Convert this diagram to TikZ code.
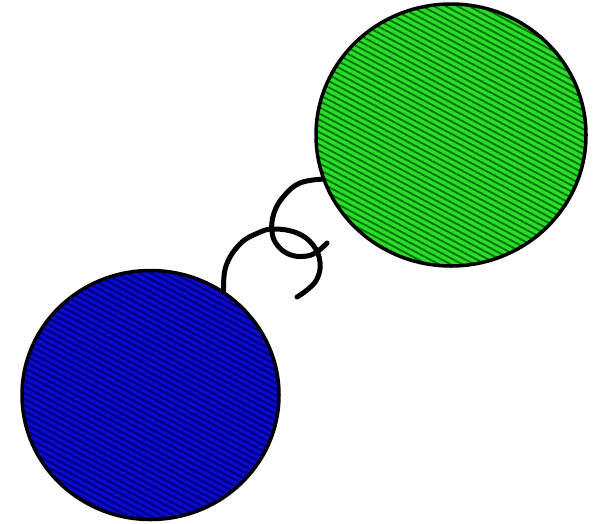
\documentclass[tikz,border=0pt]{standalone}
\usetikzlibrary{shapes.geometric,patterns.meta}
\definecolor{ballgreen}{RGB}{40,222,40}
\definecolor{hatchgreen}{RGB}{0,110,0}
\definecolor{ballblue}{RGB}{10,10,205}
\definecolor{hatchblue}{RGB}{0,0,120}
\tikzset{
  ball/.style={ellipse, draw=black, line width=3.5pt, inner sep=0pt},
  greenball/.style={ball, minimum width=270pt, minimum height=262pt,
    preaction={fill=ballgreen},
    pattern={Lines[angle=-28, distance=5.5pt, line width=1.8pt]}, pattern color=hatchgreen},
  blueball/.style={ball, minimum width=257pt, minimum height=249pt,
    preaction={fill=ballblue},
    pattern={Lines[angle=-28, distance=5.5pt, line width=1.8pt]}, pattern color=hatchblue},
  coil/.style={draw=black, line width=5pt, line cap=round, line join=round}
}
\begin{document}
\begin{tikzpicture}[x=1pt,y=-1pt]
\useasboundingbox (0,0) rectangle (596,523);
\node[greenball] (green) at (451,135) {};
\node[blueball] (blue) at (150.5,395) {};
\coordinate (bend) at (297,297);
\coordinate (gend) at (327,243);
\draw[coil] plot[smooth, tension=0.7] coordinates {(blue.55) (226,266) (240,244) (258,233) (274,229) (297,233) (313,245) (320,262) (317,279) (307,290) (bend)};
\draw[coil] plot[smooth, tension=0.7] coordinates {(green.199) (300,183) (284,196) (274,213) (272,232) (278,246) (291,255) (307,256) (318,251) (gend)};
\end{tikzpicture}
\end{document}
